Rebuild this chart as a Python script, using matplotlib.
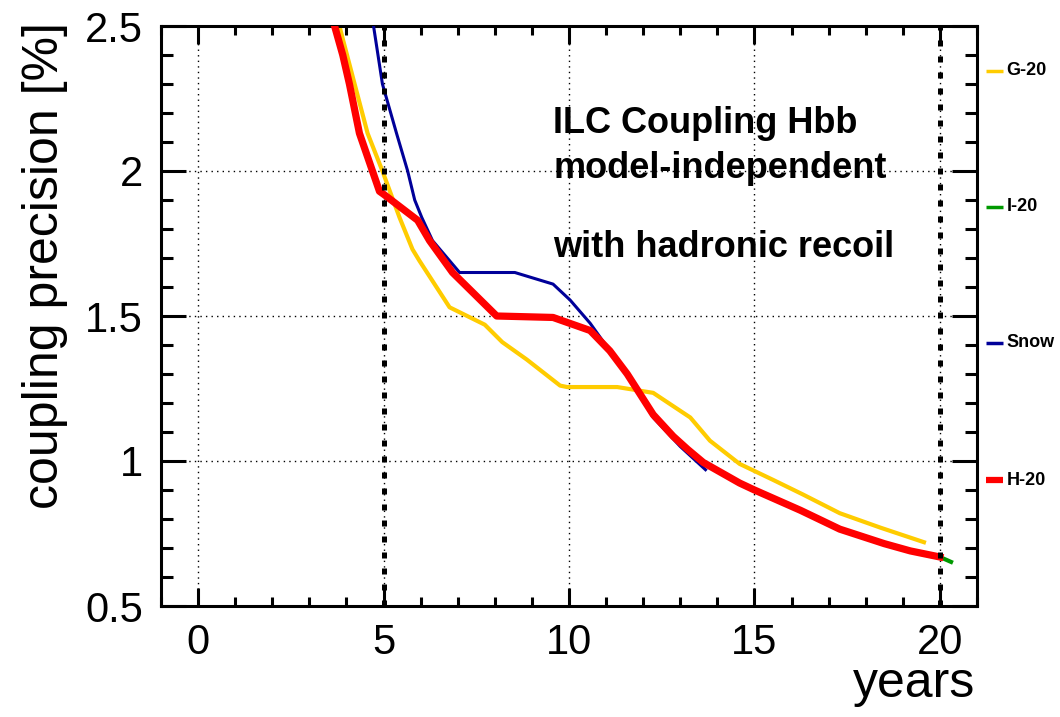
import numpy as np
import matplotlib
matplotlib.use("Agg")
import matplotlib.pyplot as plt
from matplotlib.ticker import MultipleLocator
from matplotlib.transforms import blended_transform_factory

plt.rcParams['font.family'] = ['Liberation Sans', 'DejaVu Sans']

# H-20 (red, thick)
h20_years = [3.68, 3.9, 4.08, 4.35, 4.89, 5.0, 5.92, 6.24, 6.86, 8.05, 9.57,
             10.57, 11.1, 11.57, 12.27, 12.81, 13.2, 13.62, 14.6, 15.0,
             16.24, 17.3, 18.5, 19.2, 20.0]
h20_prec = [2.50, 2.40, 2.30, 2.13, 1.93, 1.92, 1.83, 1.76, 1.65, 1.50, 1.495,
            1.45, 1.38, 1.30, 1.16, 1.085, 1.04, 0.995, 0.924, 0.90,
            0.83, 0.765, 0.715, 0.69, 0.669]

# I-20 (green, hidden under H-20 except the tail)
i20_years = h20_years + [20.3]
i20_prec = h20_prec + [0.652]

# G-20 (yellow)
g20_years = [3.81, 4.22, 4.57, 4.97, 5.43, 5.78, 5.97, 6.78, 7.73, 8.2, 8.86,
             9.76, 9.95, 11.3, 12.27, 13.27, 13.8, 14.6, 15.5, 16.3, 17.3,
             18.4, 19.57]
g20_prec = [2.5, 2.30, 2.13, 2.0, 1.84, 1.73, 1.69, 1.53, 1.47, 1.41, 1.35,
            1.26, 1.255, 1.255, 1.235, 1.15, 1.07, 0.99, 0.935, 0.885, 0.82,
            0.77, 0.72]

# Snow (blue)
snow_years = [4.73, 4.97, 5.35, 5.65, 5.84, 6.03, 6.32, 7.05, 8.54, 9.57,
              10.03, 10.57, 11.1, 11.57, 12.27, 13.0, 13.68]
snow_prec = [2.5, 2.30, 2.13, 2.0, 1.90, 1.84, 1.76, 1.65, 1.65, 1.61,
             1.555, 1.475, 1.38, 1.30, 1.15, 1.05, 0.97]

# labels on the right side
label_names = ['G-20', 'I-20', 'Snow', 'H-20']
label_prec = [2.345, 1.876, 1.407, 0.934]
label_colors = ['#ffcc00', '#009900', '#000099', '#ff0000']

marker_years = [5, 20]

fig = plt.figure(figsize=(10.6, 7.17), dpi=100)
ax = fig.add_axes([161/1060, 1 - 606/717, 816/1060, 580/717])

ax.set_xlim(-1, 21)
ax.set_ylim(0.5, 2.5)
ax.xaxis.set_major_locator(MultipleLocator(5))
ax.xaxis.set_minor_locator(MultipleLocator(1))
ax.yaxis.set_major_locator(MultipleLocator(0.5))
ax.yaxis.set_minor_locator(MultipleLocator(0.1))
ax.yaxis.set_major_formatter(plt.FuncFormatter(lambda v, p: '%g' % v))

ax.grid(True, which='major', color='black', linestyle=(0, (1, 3)), linewidth=1.0, zorder=0)

ax.plot(g20_years, g20_prec, color='#ffcc00', lw=3.0, zorder=2)
ax.plot(snow_years, snow_prec, color='#000099', lw=2.2, zorder=3)
ax.plot(i20_years, i20_prec, color='#009900', lw=3.0, zorder=4)
ax.plot(h20_years, h20_prec, color='#ff0000', lw=5.2, zorder=5)

for yr in marker_years:
    ax.axvline(yr, color='black', lw=3.6, linestyle=(0, (1.2, 2.0)), zorder=6)

for s in ax.spines.values():
    s.set_linewidth(2.2)
ax.tick_params(which='both', direction='in', top=True, right=True, width=2.2,
               labelsize=30, colors='black')
ax.tick_params(axis='x', which='major', length=13, pad=12)
ax.tick_params(axis='x', which='minor', length=6.5)
ax.tick_params(axis='y', which='major', length=18, pad=13)
ax.tick_params(axis='y', which='minor', length=8.6)

ax.text(0.4804, 0.8155, 'ILC Coupling Hbb', transform=ax.transAxes,
        fontsize=26, fontweight='bold', va='baseline')
ax.text(0.4804, 0.7379, 'model-independent', transform=ax.transAxes,
        fontsize=26, fontweight='bold', va='baseline')
ax.text(0.4804, 0.6017, 'with hadronic recoil', transform=ax.transAxes,
        fontsize=26, fontweight='bold', va='baseline')

trans = blended_transform_factory(ax.transAxes, ax.transData)
for name, yv, col in zip(label_names, label_prec, label_colors):
    lw = 4.5 if name == 'H-20' else 2.5
    ax.plot([1.011, 1.032], [yv, yv], color=col, lw=lw, transform=trans,
            clip_on=False, solid_capstyle='butt')
    ax.text(1.036, yv, name, transform=trans, fontsize=13, fontweight='bold',
            va='center', ha='left')

fig.text(45/1060, 1 - 22/717, 'coupling precision [%]', rotation=90,
         ha='center', va='top', fontsize=36)
fig.text(975/1060, 1 - 697/717, 'years', ha='right', va='baseline', fontsize=36)

fig.savefig('out.png', dpi=100)
